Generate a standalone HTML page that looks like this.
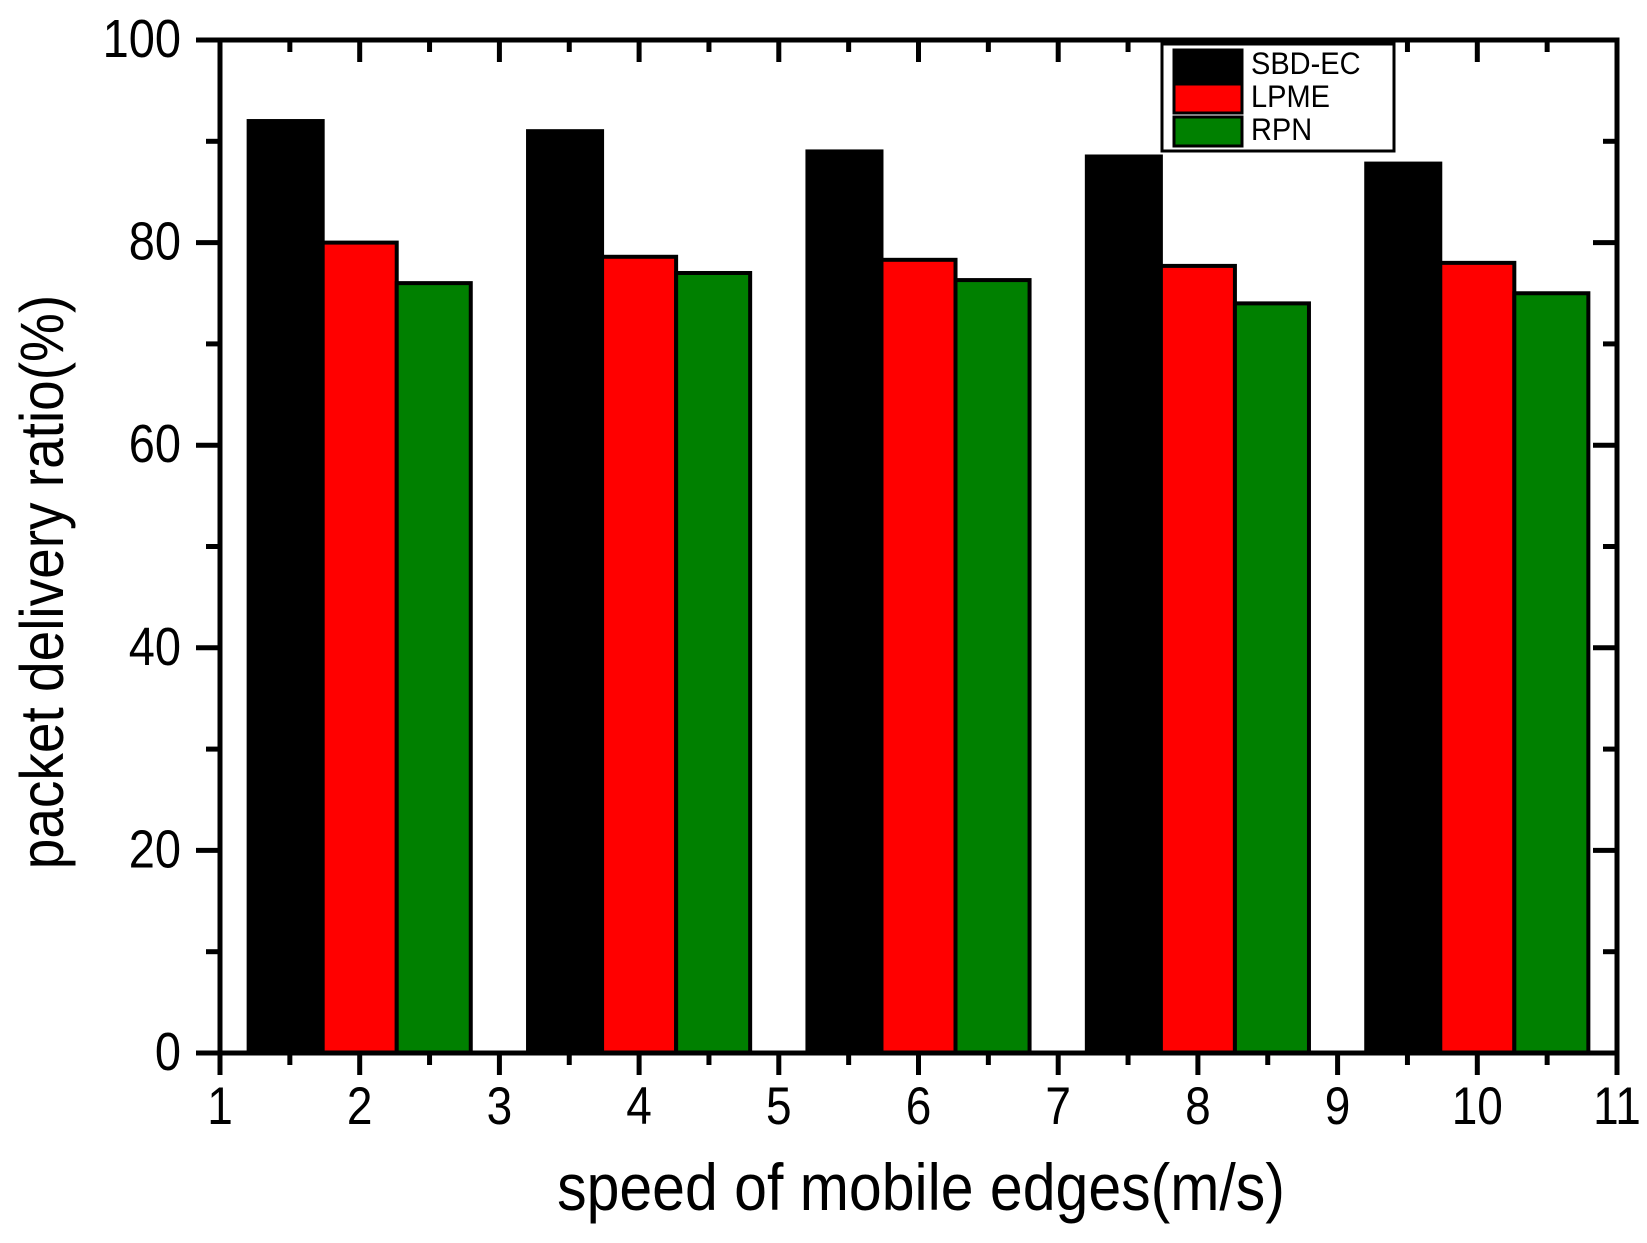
<!DOCTYPE html>
<html><head><meta charset="utf-8"><style>
html,body{margin:0;padding:0;background:#fff;}
svg text{font-family:"Liberation Sans",Arial,sans-serif;fill:#000;}
</style></head><body>
<svg id="chart" width="1647" height="1238" viewBox="0 0 1647 1238" xmlns="http://www.w3.org/2000/svg">
<g id="bars"></g>
<g id="axes"></g>
<g id="legend">
  <rect x="1162" y="44" width="232" height="107" fill="#fff" stroke="#000" stroke-width="3"/>
  <rect x="1174" y="50" width="68" height="31" fill="#000" stroke="#000" stroke-width="3"/>
  <text transform="translate(1251,74) scale(1,1.1)" font-size="29">SBD-EC</text>
  <rect x="1174" y="84" width="68" height="29" fill="#f00" stroke="#000" stroke-width="3"/>
  <text transform="translate(1251,107) scale(1,1.1)" font-size="29">LPME</text>
  <rect x="1174" y="117" width="68" height="29" fill="#008000" stroke="#000" stroke-width="3"/>
  <text transform="translate(1251,140) scale(1,1.1)" font-size="29">RPN</text>
</g>
<text transform="translate(921,1210) scale(1,1.12)" font-size="59" text-anchor="middle">speed of mobile edges(m/s)</text>
<text transform="translate(63,582) rotate(-90) scale(1,1.12)" font-size="55" text-anchor="middle">packet delivery ratio(%)</text>
</svg>
<script>
const categories = [2, 4, 6, 8, 10];
const seriesNames = ["SBD-EC", "LPME", "RPN"];
const sbdec = [92, 91, 89, 88.5, 87.8];
const lpme = [80, 78.6, 78.3, 77.7, 78];
const rpn = [76, 77, 76.3, 74, 75];
const xTicks = [1, 2, 3, 4, 5, 6, 7, 8, 9, 10, 11];
const yTicks = [0, 20, 40, 60, 80, 100];

const X0 = 220, X1 = 1617, Y0 = 1053, Y1 = 40;
const xs = v => X0 + (v - 1) / 10 * (X1 - X0);
const ys = v => Y0 - v / 100 * (Y0 - Y1);
const NS = "http://www.w3.org/2000/svg";
function mk(tag, attrs, parent) {
  const e = document.createElementNS(NS, tag);
  for (const k in attrs) e.setAttribute(k, attrs[k]);
  parent.appendChild(e);
  return e;
}
const barsG = document.getElementById('bars');
const axesG = document.getElementById('axes');
const colors = ["#000", "#f00", "#008000"];
const series = [sbdec, lpme, rpn];
const bw = 0.53;
series.forEach((vals, si) => {
  vals.forEach((v, i) => {
    const c = categories[i] + (si - 1) * bw;
    const xl = xs(c - bw / 2), xr = xs(c + bw / 2);
    const r = mk('rect', {x: xl, y: ys(v), width: xr - xl, height: ys(0) - ys(v), fill: colors[si], stroke: '#000', 'stroke-width': 4}, barsG);
    
    
  });
});
const fr = mk('rect', {x: X0, y: Y1, width: X1 - X0, height: Y0 - Y1, fill: 'none', stroke: '#000', 'stroke-width': 5}, axesG);


for (let t = 1; t <= 11; t += 0.5) {
  const major = Number.isInteger(t);
  const x = xs(t);
  const L = major ? 22 : 12;
  const l1 = mk('line', {x1: x, x2: x, y1: Y0, y2: Y0 + L, stroke: '#000', 'stroke-width': 5}, axesG);
  
  
  const l2 = mk('line', {x1: x, x2: x, y1: Y1, y2: Y1 + L, stroke: '#000', 'stroke-width': 5}, axesG);
  
  
}
xTicks.forEach(t => {
  const tx = mk('text', {transform: 'translate(' + xs(t) + ',1124) scale(1,1.15)', 'font-size': 46, 'text-anchor': 'middle'}, axesG);
  tx.textContent = t;
  
  
});
for (let t = 0; t <= 100; t += 10) {
  const major = t % 20 === 0;
  const y = ys(t);
  const L = major ? 24 : 14;
  const l1 = mk('line', {x1: X0 - L, x2: X0, y1: y, y2: y, stroke: '#000', 'stroke-width': 5}, axesG);
  
  
  const l2 = mk('line', {x1: X1 - L, x2: X1, y1: y, y2: y, stroke: '#000', 'stroke-width': 5}, axesG);
  
  
}
yTicks.forEach(t => {
  const tx = mk('text', {transform: 'translate(181,' + (ys(t) + 17) + ') scale(1,1.15)', 'font-size': 47, 'text-anchor': 'end'}, axesG);
  tx.textContent = t;
  
  
});
</script>
</body></html>
